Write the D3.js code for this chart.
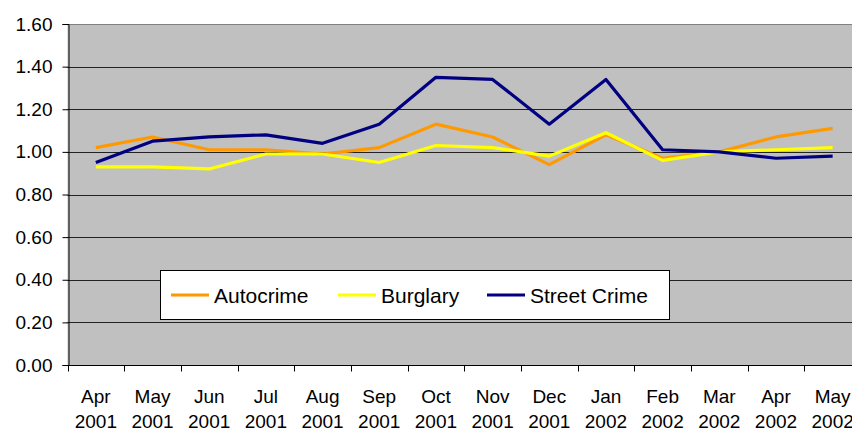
<!DOCTYPE html>
<html>
<head>
<meta charset="utf-8">
<script src="https://cdn.jsdelivr.net/npm/d3@7"></script>
<style>
  body { margin: 0; background: #fff; }
  svg { display: block; font-family: "Liberation Sans", Arial, sans-serif; }
</style>
</head>
<body>
<script>
  // data
  var months = ["Apr", "May", "Jun", "Jul", "Aug", "Sep", "Oct", "Nov", "Dec", "Jan", "Feb", "Mar", "Apr", "May"];
  var years = ["2001", "2001", "2001", "2001", "2001", "2001", "2001", "2001", "2001", "2002", "2002", "2002", "2002", "2002"];
  var autocrime = [1.02, 1.07, 1.01, 1.01, 0.99, 1.02, 1.13, 1.07, 0.94, 1.08, 0.97, 1.00, 1.07, 1.11];
  var burglary = [0.93, 0.93, 0.92, 0.99, 0.99, 0.95, 1.03, 1.02, 0.98, 1.09, 0.96, 1.00, 1.01, 1.02];
  var streetCrime = [0.95, 1.05, 1.07, 1.08, 1.04, 1.13, 1.35, 1.34, 1.13, 1.34, 1.01, 1.00, 0.97, 0.98];
  var yTicks = [0, 0.2, 0.4, 0.6, 0.8, 1.0, 1.2, 1.4, 1.6];

  var seriesNames = ["Autocrime", "Burglary", "Street Crime"];
  var seriesColors = ["#ff9900", "#ffff00", "#000080"];
  var seriesValues = [autocrime, burglary, streetCrime];

  /***** Configuration *****/
  var width = 852, height = 430;
  var plot = { left: 67.5, right: 861, top: 24, bottom: 365 };

  var keys = months.map(function (m, i) { return i; });
  var x = d3.scaleBand().domain(keys).range([plot.left, plot.right]);
  var y = d3.scaleLinear().domain([0, 1.6]).range([plot.bottom, plot.top]);

  var svg = d3.select("body").append("svg")
    .attr("width", width)
    .attr("height", height);

  // plot background
  svg.append("rect")
    .attr("x", plot.left).attr("y", plot.top)
    .attr("width", plot.right - plot.left).attr("height", plot.bottom - plot.top)
    .attr("fill", "#c0c0c0");

  // gridlines
  svg.append("g").selectAll("line")
    .data(yTicks.filter(function (t) { return t > 0; }))
    .enter().append("line")
    .attr("x1", plot.left).attr("x2", plot.right)
    .attr("y1", function (d) { return Math.round(y(d)) + 0.5; })
    .attr("y2", function (d) { return Math.round(y(d)) + 0.5; })
    .attr("stroke", function (d) { return d === 1.6 ? "#808080" : "#222"; })
    .attr("stroke-width", 1);

  // y axis
  var yAxis = d3.axisLeft(y).tickValues(yTicks).tickFormat(d3.format(".2f")).tickSize(6).tickPadding(10);
  var gy = svg.append("g")
    .attr("transform", "translate(" + (Math.round(plot.left) + 0.5) + ",0)")
    .call(yAxis);
  gy.select(".domain").attr("stroke", "#000");
  gy.selectAll(".tick line").attr("stroke", "#000");
  gy.selectAll(".tick text").attr("font-size", 19).attr("fill", "#000")
    .attr("font-family", "Liberation Sans, Arial, sans-serif");

  // x axis (ticks at category boundaries)
  var gx = svg.append("g")
    .attr("transform", "translate(0," + (Math.round(plot.bottom) + 0.5) + ")");
  gx.append("line")
    .attr("x1", plot.left).attr("x2", plot.right)
    .attr("stroke", "#000");
  gx.selectAll("line.tick")
    .data(keys)
    .enter().append("line")
    .attr("class", "tick")
    .attr("x1", function (d) { return Math.round(x(d)) + 0.5; })
    .attr("x2", function (d) { return Math.round(x(d)) + 0.5; })
    .attr("y1", 0).attr("y2", 6)
    .attr("stroke", "#000");
  var labels = gx.selectAll("text")
    .data(keys)
    .enter().append("text")
    .attr("text-anchor", "middle")
    .attr("font-size", 19)
    .attr("fill", "#000")
    .attr("transform", function (d) { return "translate(" + (x(d) + x.bandwidth() / 2) + ",0)"; });
  labels.append("tspan").attr("x", 0).attr("y", 37).text(function (d) { return months[d]; });
  labels.append("tspan").attr("x", 0).attr("y", 62).text(function (d) { return years[d]; });

  // series lines
  var line = d3.line()
    .x(function (d, i) { return x(i) + x.bandwidth() / 2; })
    .y(function (d) { return y(d); });

  svg.append("g").selectAll("path")
    .data(seriesValues)
    .enter().append("path")
    .attr("d", function (d) { return line(d); })
    .attr("fill", "none")
    .attr("stroke", function (d, i) { return seriesColors[i]; })
    .attr("stroke-width", 3.2)
    .attr("stroke-linejoin", "round");

  // legend
  var legend = svg.append("g");
  legend.append("rect")
    .attr("x", 160.5).attr("y", 270.5)
    .attr("width", 509).attr("height", 49)
    .attr("fill", "#fff")
    .attr("stroke", "#000");
  var legendX = [171, 338, 487];
  var items = legend.selectAll("g.item")
    .data(seriesNames)
    .enter().append("g")
    .attr("class", "item")
    .attr("transform", function (d, i) { return "translate(" + legendX[i] + ",295)"; });
  items.append("line")
    .attr("x1", 0).attr("x2", 38)
    .attr("stroke", function (d, i) { return seriesColors[i]; })
    .attr("stroke-width", 3.2);
  items.append("text")
    .attr("x", 43).attr("y", 7.5)
    .attr("font-size", 21)
    .attr("fill", "#000")
    .text(function (d) { return d; });
</script>
</body>
</html>
